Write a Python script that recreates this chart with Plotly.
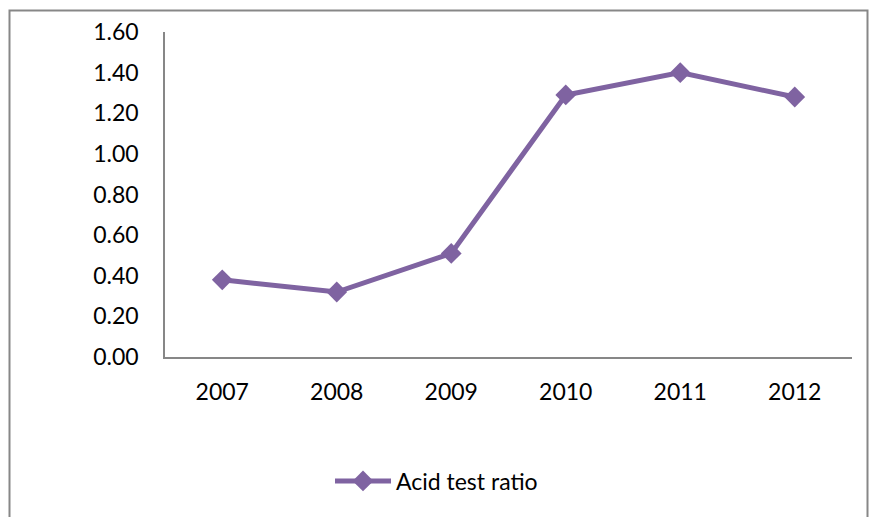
import plotly.graph_objects as go

years = ["2007", "2008", "2009", "2010", "2011", "2012"]
acid_test_ratio = [0.38, 0.32, 0.51, 1.29, 1.40, 1.28]
y_ticks = [0.0, 0.2, 0.4, 0.6, 0.8, 1.0, 1.2, 1.4, 1.6]
y_tick_text = [f"{v:.2f}" for v in y_ticks]

purple = "#7F63A1"
axis_grey = "#878787"
font_family = "Lato, 'Open Sans', sans-serif"

fig = go.Figure()
fig.add_trace(go.Scatter(
    x=years,
    y=acid_test_ratio,
    mode="lines+markers",
    name="Acid test ratio",
    line=dict(color=purple, width=5),
    marker=dict(symbol="diamond", size=16, color=purple),
))

W, H = 870, 517
L, R, T, B = 165, 18, 32, 160
pw, ph = W - L - R, H - T - B


def px_x(p):
    return (p - L) / pw


def px_y(p):
    return (H - B - p) / ph


fig.update_layout(
    width=W,
    height=H,
    margin=dict(l=L, r=R, t=T, b=B),
    paper_bgcolor="white",
    plot_bgcolor="white",
    font=dict(family=font_family, size=23, color="black"),
    showlegend=True,
    legend=dict(
        orientation="h",
        x=px_x(330),
        xanchor="left",
        y=px_y(481),
        yanchor="middle",
        itemwidth=56,
        font=dict(size=23),
        bgcolor="rgba(0,0,0,0)",
    ),
    xaxis=dict(
        type="category",
        range=[-0.5, len(years) - 0.5],
        showline=True,
        linecolor=axis_grey,
        linewidth=1.5,
        showgrid=False,
        ticks="",
        ticklabelstandoff=14,
        zeroline=False,
    ),
    yaxis=dict(
        range=[0, 1.6],
        tickvals=y_ticks,
        ticktext=y_tick_text,
        showline=True,
        linecolor=axis_grey,
        linewidth=1.5,
        showgrid=False,
        ticks="",
        ticklabelstandoff=20,
        zeroline=False,
    ),
    shapes=[
        dict(
            type="rect",
            xref="paper",
            yref="paper",
            x0=px_x(9.5),
            x1=px_x(867.5),
            y0=px_y(530),
            y1=px_y(10.5),
            line=dict(color=axis_grey, width=2),
            fillcolor="rgba(0,0,0,0)",
            layer="below",
        )
    ],
)

fig.write_html("out.html")
